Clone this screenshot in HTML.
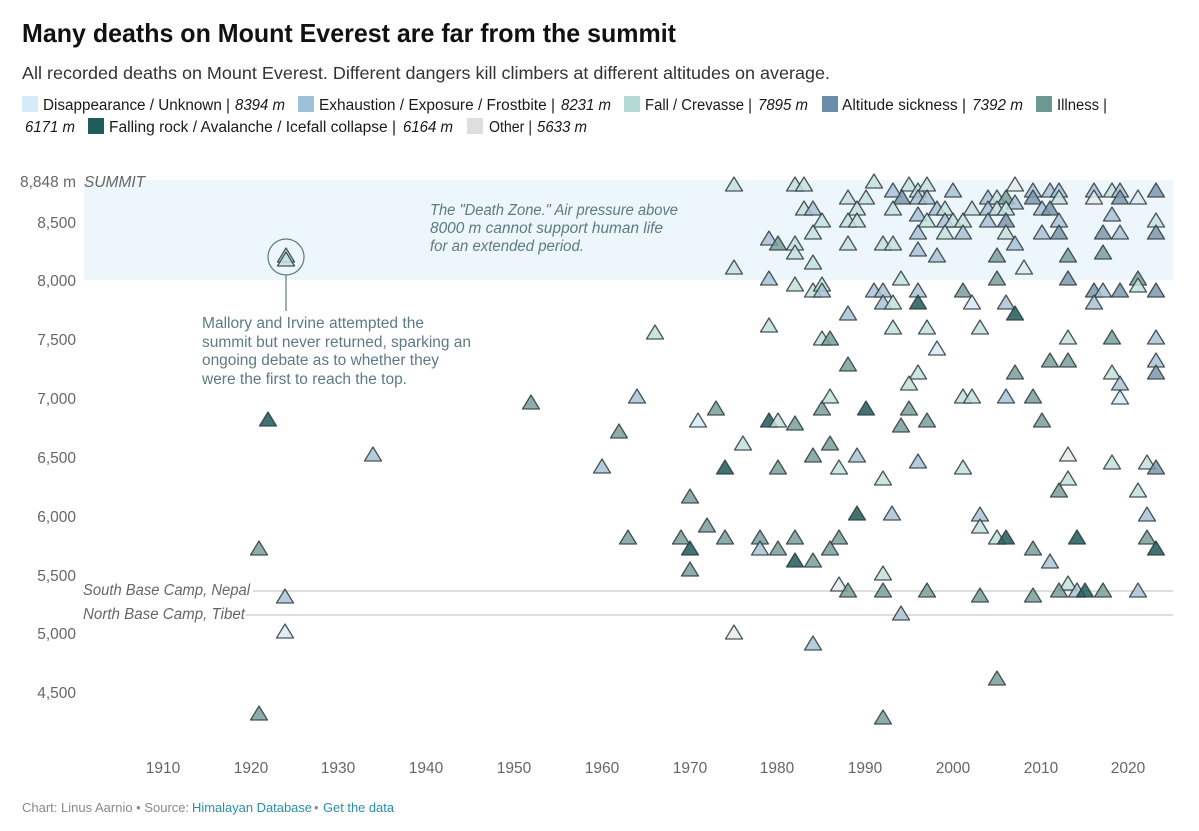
<!DOCTYPE html>
<html><head><meta charset="utf-8"><style>
html,body{margin:0;padding:0;background:#fff;}
svg{display:block;font-family:"Liberation Sans",Arial,sans-serif;}
.tri path{fill-opacity:.85;stroke:#2b3a3d;stroke-width:1.3;stroke-opacity:.85;stroke-linejoin:round;}
.F{fill:#c4e0dc}.E{fill:#a9c2d6}.A{fill:#7d97ad}.I{fill:#7a9f9b}.R{fill:#1f5a58}.D{fill:#d7e9f4}.O{fill:#e8eaea}
.ax{fill:#666;font-size:15.5px}
.ann{fill:#5d7a85;font-size:15.5px}
.lg{fill:#1a1a1a;font-size:15.5px}
</style></head><body>
<svg width="1199" height="831" viewBox="0 0 1199 831" xmlns="http://www.w3.org/2000/svg">
<rect width="1199" height="831" fill="#fff"/>
<text x="22" y="42" font-size="26" font-weight="bold" fill="#111" textLength="654" lengthAdjust="spacingAndGlyphs">Many deaths on Mount Everest are far from the summit</text>
<text x="22" y="79" font-size="17.5" fill="#333" textLength="808" lengthAdjust="spacingAndGlyphs">All recorded deaths on Mount Everest. Different dangers kill climbers at different altitudes on average.</text>

<!-- legend -->
<rect x="22" y="96" width="16" height="16" fill="#d6ebf7"/>
<text class="lg" x="43" y="110" textLength="187" lengthAdjust="spacingAndGlyphs">Disappearance / Unknown |</text>
<text class="lg" x="235" y="110" font-style="italic" textLength="50" lengthAdjust="spacingAndGlyphs">8394 m</text>
<rect x="298" y="96" width="16" height="16" fill="#9ec1d9"/>
<text class="lg" x="319" y="110" textLength="236" lengthAdjust="spacingAndGlyphs">Exhaustion / Exposure / Frostbite |</text>
<text class="lg" x="561" y="110" font-style="italic" textLength="50" lengthAdjust="spacingAndGlyphs">8231 m</text>
<rect x="624" y="96" width="16" height="16" fill="#b5d9d6"/>
<text class="lg" x="645" y="110" textLength="107" lengthAdjust="spacingAndGlyphs">Fall / Crevasse |</text>
<text class="lg" x="758" y="110" font-style="italic" textLength="50" lengthAdjust="spacingAndGlyphs">7895 m</text>
<rect x="822" y="96" width="16" height="16" fill="#6a8dab"/>
<text class="lg" x="842" y="110" textLength="124" lengthAdjust="spacingAndGlyphs">Altitude sickness |</text>
<text class="lg" x="972" y="110" font-style="italic" textLength="51" lengthAdjust="spacingAndGlyphs">7392 m</text>
<rect x="1036" y="96" width="16" height="16" fill="#6c9894"/>
<text class="lg" x="1057" y="110" textLength="50" lengthAdjust="spacingAndGlyphs">Illness |</text>
<text class="lg" x="25" y="132" font-style="italic" textLength="50" lengthAdjust="spacingAndGlyphs">6171 m</text>
<rect x="88" y="118" width="16" height="16" fill="#1f5d5c"/>
<text class="lg" x="109" y="132" textLength="287" lengthAdjust="spacingAndGlyphs">Falling rock / Avalanche / Icefall collapse |</text>
<text class="lg" x="403" y="132" font-style="italic" textLength="50" lengthAdjust="spacingAndGlyphs">6164 m</text>
<rect x="467" y="118" width="16" height="16" fill="#dedede"/>
<text class="lg" x="489" y="132" textLength="43" lengthAdjust="spacingAndGlyphs">Other |</text>
<text class="lg" x="537" y="132" font-style="italic" textLength="50" lengthAdjust="spacingAndGlyphs">5633 m</text>

<!-- death zone band -->
<rect x="84" y="180" width="1089" height="100" fill="#edf6fa"/>

<!-- y axis -->
<text class="ax" x="76" y="187" text-anchor="end">8,848 m</text>
<text class="ax" x="84" y="187" font-style="italic">SUMMIT</text>
<text class="ax" x="76" y="228" text-anchor="end">8,500</text>
<text class="ax" x="76" y="286" text-anchor="end">8,000</text>
<text class="ax" x="76" y="345" text-anchor="end">7,500</text>
<text class="ax" x="76" y="404" text-anchor="end">7,000</text>
<text class="ax" x="76" y="463" text-anchor="end">6,500</text>
<text class="ax" x="76" y="522" text-anchor="end">6,000</text>
<text class="ax" x="76" y="581" text-anchor="end">5,500</text>
<text class="ax" x="76" y="639" text-anchor="end">5,000</text>
<text class="ax" x="76" y="698" text-anchor="end">4,500</text>

<!-- x axis -->
<g class="ax" text-anchor="middle">
<text x="163" y="773">1910</text><text x="251" y="773">1920</text><text x="338" y="773">1930</text><text x="426" y="773">1940</text>
<text x="514" y="773">1950</text><text x="602" y="773">1960</text><text x="690" y="773">1970</text><text x="777" y="773">1980</text>
<text x="865" y="773">1990</text><text x="953" y="773">2000</text><text x="1041" y="773">2010</text><text x="1128" y="773">2020</text>
</g>

<!-- base camps -->
<line x1="253" y1="591" x2="1173" y2="591" stroke="#bdbdbd" stroke-width="1"/>
<line x1="246" y1="615" x2="1173" y2="615" stroke="#bdbdbd" stroke-width="1"/>
<text class="ax" x="83" y="595" font-style="italic" textLength="167" lengthAdjust="spacingAndGlyphs">South Base Camp, Nepal</text>
<text class="ax" x="83" y="619" font-style="italic" textLength="162" lengthAdjust="spacingAndGlyphs">North Base Camp, Tibet</text>

<!-- annotations -->
<text class="ann" font-style="italic"><tspan x="430" y="215" textLength="248" lengthAdjust="spacingAndGlyphs">The "Death Zone." Air pressure above</tspan></text>
<text class="ann" font-style="italic" x="430" y="233" textLength="233" lengthAdjust="spacingAndGlyphs">8000 m cannot support human life</text>
<text class="ann" font-style="italic" x="430" y="251" textLength="154" lengthAdjust="spacingAndGlyphs">for an extended period.</text>

<circle cx="286" cy="257" r="18" fill="none" stroke="#5d7a85" stroke-width="1.2"/>
<line x1="286" y1="275" x2="286" y2="311" stroke="#5d7a85" stroke-width="1.2"/>
<text class="ann" x="202" y="328" textLength="222" lengthAdjust="spacingAndGlyphs">Mallory and Irvine attempted the</text>
<text class="ann" x="202" y="347" textLength="269" lengthAdjust="spacingAndGlyphs">summit but never returned, sparking an</text>
<text class="ann" x="202" y="365" textLength="237" lengthAdjust="spacingAndGlyphs">ongoing debate as to whether they</text>
<text class="ann" x="202" y="384" textLength="205" lengthAdjust="spacingAndGlyphs">were the first to reach the top.</text>

<!-- triangles -->
<g class="tri">
<path class="F" d="M286 248l8.5 14h-17z"/>
<path class="F" d="M286 252l8.5 14h-17z"/>
<path class="R" d="M268 412l8.5 14h-17z"/>
<path class="I" d="M259 541l8.5 14h-17z"/>
<path class="E" d="M285 589l8.5 14h-17z"/>
<path class="D" d="M285 624l8.5 14h-17z"/>
<path class="I" d="M259 706l8.5 14h-17z"/>
<path class="E" d="M373 447l8.5 14h-17z"/>
<path class="I" d="M531 395l8.5 14h-17z"/>
<path class="E" d="M602 459l8.5 14h-17z"/>
<path class="I" d="M619 424l8.5 14h-17z"/>
<path class="I" d="M628 530l8.5 14h-17z"/>
<path class="E" d="M637 389l8.5 14h-17z"/>
<path class="F" d="M655 325l8.5 14h-17z"/>

<path class="F" d="M734 177l8.5 14h-17z"/>
<path class="F" d="M795 177l8.5 14h-17z"/>
<path class="F" d="M804 177l8.5 14h-17z"/>
<path class="F" d="M874 174l8.5 14h-17z"/>
<path class="F" d="M848 190l8.5 14h-17z"/>
<path class="F" d="M866 190l8.5 14h-17z"/>
<path class="F" d="M804 201l8.5 14h-17z"/>
<path class="E" d="M813 201l8.5 14h-17z"/>
<path class="F" d="M857 201l8.5 14h-17z"/>
<path class="F" d="M822 213l8.5 14h-17z"/>
<path class="F" d="M848 213l8.5 14h-17z"/>
<path class="F" d="M857 213l8.5 14h-17z"/>
<path class="F" d="M813 225l8.5 14h-17z"/>
<path class="E" d="M769 231l8.5 14h-17z"/>
<path class="I" d="M778 236l8.5 14h-17z"/>
<path class="F" d="M795 236l8.5 14h-17z"/>
<path class="F" d="M795 245l8.5 14h-17z"/>
<path class="F" d="M848 236l8.5 14h-17z"/>
<path class="F" d="M883 236l8.5 14h-17z"/>
<path class="F" d="M734 260l8.5 14h-17z"/>
<path class="F" d="M813 255l8.5 14h-17z"/>
<path class="E" d="M769 271l8.5 14h-17z"/>
<path class="F" d="M795 277l8.5 14h-17z"/>
<path class="F" d="M813 283l8.5 14h-17z"/>
<path class="F" d="M822 277l8.5 14h-17z"/>
<path class="E" d="M822 283l8.5 14h-17z"/>
<path class="E" d="M874 283l8.5 14h-17z"/>
<path class="E" d="M883 283l8.5 14h-17z"/>
<path class="E" d="M883 295l8.5 14h-17z"/>
<path class="E" d="M848 306l8.5 14h-17z"/>
<path class="F" d="M769 318l8.5 14h-17z"/>
<path class="F" d="M822 331l8.5 14h-17z"/>
<path class="I" d="M830 331l8.5 14h-17z"/>
<path class="I" d="M848 357l8.5 14h-17z"/>
<path class="I" d="M716 401l8.5 14h-17z"/>
<path class="D" d="M698 413l8.5 14h-17z"/>
<path class="R" d="M769 413l8.5 14h-17z"/>
<path class="F" d="M778 413l8.5 14h-17z"/>
<path class="I" d="M795 416l8.5 14h-17z"/>
<path class="I" d="M822 401l8.5 14h-17z"/>
<path class="F" d="M830 389l8.5 14h-17z"/>
<path class="R" d="M866 401l8.5 14h-17z"/>
<path class="F" d="M743 436l8.5 14h-17z"/>
<path class="I" d="M830 436l8.5 14h-17z"/>

<path class="R" d="M725 460l8.5 14h-17z"/>
<path class="I" d="M778 460l8.5 14h-17z"/>
<path class="F" d="M839 460l8.5 14h-17z"/>
<path class="I" d="M813 448l8.5 14h-17z"/>
<path class="E" d="M857 448l8.5 14h-17z"/>
<path class="F" d="M883 471l8.5 14h-17z"/>
<path class="I" d="M690 489l8.5 14h-17z"/>
<path class="R" d="M857 506l8.5 14h-17z"/>
<path class="E" d="M892 506l8.5 14h-17z"/>
<path class="I" d="M681 530l8.5 14h-17z"/>
<path class="I" d="M707 518l8.5 14h-17z"/>
<path class="I" d="M725 530l8.5 14h-17z"/>
<path class="I" d="M760 530l8.5 14h-17z"/>
<path class="I" d="M795 530l8.5 14h-17z"/>
<path class="I" d="M839 530l8.5 14h-17z"/>
<path class="R" d="M690 541l8.5 14h-17z"/>
<path class="E" d="M760 541l8.5 14h-17z"/>
<path class="I" d="M778 541l8.5 14h-17z"/>
<path class="I" d="M830 541l8.5 14h-17z"/>
<path class="R" d="M795 553l8.5 14h-17z"/>
<path class="I" d="M813 553l8.5 14h-17z"/>
<path class="I" d="M690 562l8.5 14h-17z"/>
<path class="O" d="M839 577l8.5 14h-17z"/>
<path class="I" d="M848 583l8.5 14h-17z"/>
<path class="F" d="M883 566l8.5 14h-17z"/>
<path class="I" d="M883 583l8.5 14h-17z"/>
<path class="O" d="M734 625l8.5 14h-17z"/>
<path class="E" d="M813 636l8.5 14h-17z"/>
<path class="I" d="M883 710l8.5 14h-17z"/>

<path class="E" d="M893 183l8.5 14h-17z"/>
<path class="F" d="M909 177l8.5 14h-17z"/>
<path class="F" d="M918 183l8.5 14h-17z"/>
<path class="F" d="M927 177l8.5 14h-17z"/>
<path class="A" d="M902 190l8.5 14h-17z"/>
<path class="E" d="M918 190l8.5 14h-17z"/>
<path class="E" d="M927 190l8.5 14h-17z"/>
<path class="E" d="M953 183l8.5 14h-17z"/>
<path class="F" d="M893 201l8.5 14h-17z"/>
<path class="E" d="M918 207l8.5 14h-17z"/>
<path class="F" d="M927 213l8.5 14h-17z"/>
<path class="E" d="M937 201l8.5 14h-17z"/>
<path class="F" d="M945 201l8.5 14h-17z"/>
<path class="E" d="M945 213l8.5 14h-17z"/>
<path class="F" d="M953 213l8.5 14h-17z"/>
<path class="F" d="M963 213l8.5 14h-17z"/>
<path class="F" d="M972 201l8.5 14h-17z"/>
<path class="E" d="M918 225l8.5 14h-17z"/>
<path class="F" d="M945 225l8.5 14h-17z"/>
<path class="E" d="M963 225l8.5 14h-17z"/>
<path class="F" d="M893 236l8.5 14h-17z"/>
<path class="E" d="M918 242l8.5 14h-17z"/>
<path class="E" d="M937 248l8.5 14h-17z"/>
<path class="E" d="M988 190l8.5 14h-17z"/>
<path class="F" d="M997 190l8.5 14h-17z"/>
<path class="I" d="M1006 190l8.5 14h-17z"/>
<path class="O" d="M1015 177l8.5 14h-17z"/>
<path class="E" d="M1015 195l8.5 14h-17z"/>
<path class="E" d="M988 201l8.5 14h-17z"/>
<path class="F" d="M997 201l8.5 14h-17z"/>
<path class="F" d="M1006 201l8.5 14h-17z"/>
<path class="E" d="M988 213l8.5 14h-17z"/>
<path class="A" d="M1006 213l8.5 14h-17z"/>
<path class="F" d="M1006 225l8.5 14h-17z"/>
<path class="E" d="M1015 236l8.5 14h-17z"/>
<path class="E" d="M1033 183l8.5 14h-17z"/>
<path class="A" d="M1033 190l8.5 14h-17z"/>
<path class="E" d="M1050 183l8.5 14h-17z"/>
<path class="E" d="M1059 183l8.5 14h-17z"/>
<path class="F" d="M1059 190l8.5 14h-17z"/>
<path class="E" d="M1042 201l8.5 14h-17z"/>
<path class="A" d="M1050 201l8.5 14h-17z"/>
<path class="E" d="M1059 213l8.5 14h-17z"/>
<path class="E" d="M1042 225l8.5 14h-17z"/>
<path class="A" d="M1059 225l8.5 14h-17z"/>
<path class="I" d="M997 248l8.5 14h-17z"/>
<path class="D" d="M1024 260l8.5 14h-17z"/>
<path class="I" d="M1068 248l8.5 14h-17z"/>
<path class="E" d="M1094 183l8.5 14h-17z"/>
<path class="O" d="M1094 190l8.5 14h-17z"/>
<path class="F" d="M1112 183l8.5 14h-17z"/>
<path class="E" d="M1120 183l8.5 14h-17z"/>
<path class="A" d="M1120 190l8.5 14h-17z"/>
<path class="D" d="M1138 190l8.5 14h-17z"/>
<path class="A" d="M1156 183l8.5 14h-17z"/>
<path class="E" d="M1112 207l8.5 14h-17z"/>
<path class="A" d="M1103 225l8.5 14h-17z"/>
<path class="E" d="M1120 225l8.5 14h-17z"/>
<path class="F" d="M1156 213l8.5 14h-17z"/>
<path class="A" d="M1156 225l8.5 14h-17z"/>
<path class="I" d="M1103 245l8.5 14h-17z"/>
<path class="F" d="M901 271l8.5 14h-17z"/>
<path class="E" d="M918 283l8.5 14h-17z"/>
<path class="I" d="M963 283l8.5 14h-17z"/>
<path class="I" d="M997 271l8.5 14h-17z"/>
<path class="A" d="M1068 271l8.5 14h-17z"/>
<path class="A" d="M1094 283l8.5 14h-17z"/>
<path class="E" d="M1103 283l8.5 14h-17z"/>
<path class="A" d="M1120 283l8.5 14h-17z"/>
<path class="I" d="M1138 271l8.5 14h-17z"/>
<path class="F" d="M1138 278l8.5 14h-17z"/>
<path class="A" d="M1156 283l8.5 14h-17z"/>
<path class="R" d="M918 295l8.5 14h-17z"/>
<path class="F" d="M893 295l8.5 14h-17z"/>
<path class="D" d="M972 295l8.5 14h-17z"/>
<path class="E" d="M1006 295l8.5 14h-17z"/>
<path class="R" d="M1015 306l8.5 14h-17z"/>
<path class="E" d="M1094 295l8.5 14h-17z"/>
<path class="F" d="M893 320l8.5 14h-17z"/>
<path class="F" d="M927 320l8.5 14h-17z"/>
<path class="F" d="M980 320l8.5 14h-17z"/>
<path class="D" d="M937 341l8.5 14h-17z"/>
<path class="F" d="M1068 330l8.5 14h-17z"/>
<path class="I" d="M1112 330l8.5 14h-17z"/>
<path class="E" d="M1156 330l8.5 14h-17z"/>
<path class="I" d="M1050 353l8.5 14h-17z"/>
<path class="I" d="M1068 353l8.5 14h-17z"/>
<path class="I" d="M1015 365l8.5 14h-17z"/>
<path class="F" d="M918 365l8.5 14h-17z"/>
<path class="F" d="M909 376l8.5 14h-17z"/>
<path class="F" d="M1112 365l8.5 14h-17z"/>
<path class="E" d="M1120 376l8.5 14h-17z"/>
<path class="D" d="M1120 390l8.5 14h-17z"/>
<path class="E" d="M1156 353l8.5 14h-17z"/>
<path class="A" d="M1156 365l8.5 14h-17z"/>
<path class="F" d="M963 389l8.5 14h-17z"/>
<path class="F" d="M972 389l8.5 14h-17z"/>
<path class="E" d="M1006 389l8.5 14h-17z"/>
<path class="I" d="M1033 389l8.5 14h-17z"/>
<path class="I" d="M909 401l8.5 14h-17z"/>
<path class="I" d="M901 418l8.5 14h-17z"/>
<path class="I" d="M927 413l8.5 14h-17z"/>
<path class="I" d="M1042 413l8.5 14h-17z"/>

<path class="E" d="M918 454l8.5 14h-17z"/>
<path class="F" d="M963 460l8.5 14h-17z"/>
<path class="O" d="M1068 447l8.5 14h-17z"/>
<path class="F" d="M1068 471l8.5 14h-17z"/>
<path class="I" d="M1059 483l8.5 14h-17z"/>
<path class="F" d="M1112 455l8.5 14h-17z"/>
<path class="F" d="M1147 455l8.5 14h-17z"/>
<path class="A" d="M1156 460l8.5 14h-17z"/>
<path class="F" d="M1138 483l8.5 14h-17z"/>
<path class="E" d="M980 507l8.5 14h-17z"/>
<path class="F" d="M980 519l8.5 14h-17z"/>
<path class="F" d="M997 530l8.5 14h-17z"/>
<path class="R" d="M1006 530l8.5 14h-17z"/>
<path class="I" d="M1033 541l8.5 14h-17z"/>
<path class="E" d="M1050 554l8.5 14h-17z"/>
<path class="R" d="M1077 530l8.5 14h-17z"/>
<path class="E" d="M1147 507l8.5 14h-17z"/>
<path class="I" d="M1147 530l8.5 14h-17z"/>
<path class="R" d="M1156 541l8.5 14h-17z"/>
<path class="I" d="M927 583l8.5 14h-17z"/>
<path class="I" d="M980 588l8.5 14h-17z"/>
<path class="I" d="M1033 588l8.5 14h-17z"/>
<path class="F" d="M1068 576l8.5 14h-17z"/>
<path class="I" d="M1059 583l8.5 14h-17z"/>
<path class="E" d="M1077 583l8.5 14h-17z"/>
<path class="R" d="M1085 583l8.5 14h-17z"/>
<path class="I" d="M1103 583l8.5 14h-17z"/>
<path class="E" d="M1138 583l8.5 14h-17z"/>
<path class="E" d="M901 606l8.5 14h-17z"/>
<path class="I" d="M997 671l8.5 14h-17z"/>
</g>

<!-- footer -->
<text x="22" y="812" font-size="13" fill="#8a8a8a">Chart: Linus Aarnio • Source: </text>
<text x="192" y="812" font-size="13" fill="#2a8eaa" textLength="120" lengthAdjust="spacingAndGlyphs">Himalayan Database</text>
<text x="314" y="812" font-size="13" fill="#8a8a8a">•</text>
<text x="323" y="812" font-size="13" fill="#2a8eaa" textLength="71" lengthAdjust="spacingAndGlyphs">Get the data</text>
</svg>
</body></html>
